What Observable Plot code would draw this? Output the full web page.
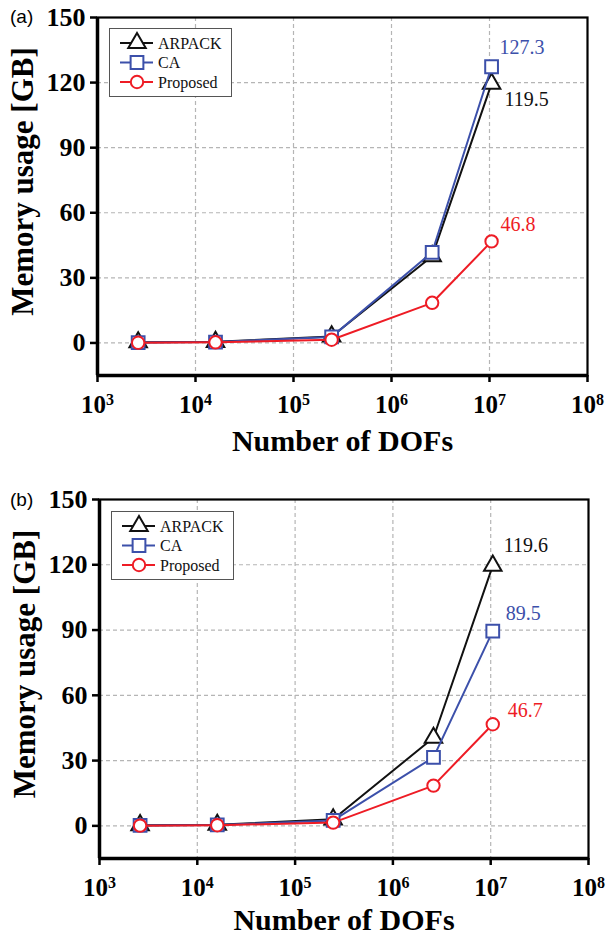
<!DOCTYPE html>
<html><head><meta charset="utf-8">
<script src="https://cdn.jsdelivr.net/npm/d3@7"></script>
<script src="https://cdn.jsdelivr.net/npm/@observablehq/plot@0.6"></script>
<style>
body{margin:0;background:#fff;}
#root{width:608px;position:relative;}
.panel{position:relative;width:608px;}
.plabel{position:absolute;font-family:"Liberation Sans",Arial,sans-serif;font-size:19px;color:#000;}
.legend{position:absolute;}
</style></head><body><div id="root"></div>
<script>
// ---- data ----
const dofs = [2600, 16000, 245000, 2600000, 10500000];
const arpackA = [0.3, 0.5, 3.0, 40.0, 119.5];
const caA     = [0.2, 0.4, 2.8, 41.8, 127.3];
const propA   = [0.1, 0.3, 1.5, 18.5, 46.8];
const arpackB = [0.3, 0.5, 3.0, 40.5, 119.6];
const caB     = [0.2, 0.4, 2.5, 31.5, 89.5];
const propB   = [0.1, 0.3, 1.5, 18.5, 46.7];
const seriesNames = ["ARPACK", "CA", "Proposed"];
const seriesColors = ["#111111", "#3c50aa", "#ee1c25"];
const seriesSymbols = ["triangle", "square", "circle"];
const xTicks = [1e3, 1e4, 1e5, 1e6, 1e7, 1e8];
const yTicks = [0, 30, 60, 90, 120, 150];
const xDomain = [1e3, 1e8];
const yDomain = [-15, 150];
const xLabel = "Number of DOFs";
const yLabel = "Memory usage [GB]";
const panelTags = ["(a)", "(b)"];

// ---- layout/style config ----
const SERIF = "Liberation Serif, Times New Roman, serif";
const panels = [
  {tag: panelTags[0], values: [arpackA, caA, propA], height: 482,
   margins: {top: 17, bottom: 107, left: 97, right: 21}, xLabelDy: 75,
   notes: [{s: 1, dx: 8, dy: -13}, {s: 0, dx: 13, dy: 22}, {s: 2, dx: 9, dy: -10}],
   legend: {left: 109, top: 28}, tagPos: {left: 10, top: 6}},
  {tag: panelTags[1], values: [arpackB, caB, propB], height: 455,
   margins: {top: 17, bottom: 79, left: 99, right: 20}, xLabelDy: 71,
   notes: [{s: 0, dx: 11, dy: -14}, {s: 1, dx: 13, dy: -11}, {s: 2, dx: 15, dy: -7}],
   legend: {left: 111, top: 29}, tagPos: {left: 10, top: 7}}
];
const symbolR = [6.5, 7.2, 6.2];

const root = document.getElementById("root");

panels.forEach(p => {
  const div = document.createElement("div");
  div.className = "panel";
  div.style.height = p.height + "px";
  root.appendChild(div);

  const marks = [];
  marks.push(Plot.ruleY(yTicks.filter(d => d > yDomain[0] && d < yDomain[1]), {stroke: "#b5b5b5", strokeWidth: 1.2, strokeDasharray: "4,3"}));
  marks.push(Plot.ruleX(xTicks.filter(d => d > xDomain[0] && d < xDomain[1]), {stroke: "#b5b5b5", strokeWidth: 1.2, strokeDasharray: "4,3"}));
  p.values.forEach((vals, i) => {
    const rows = dofs.map((x, j) => ({x, y: vals[j]}));
    marks.push(Plot.line(rows, {x: "x", y: "y", stroke: seriesColors[i], strokeWidth: 2}));
    marks.push(Plot.dot(rows, {x: "x", y: "y", symbol: seriesSymbols[i], r: symbolR[i], stroke: seriesColors[i], fill: "white", strokeWidth: 2}));
  });
  p.notes.forEach(n => {
    const vals = p.values[n.s];
    const last = dofs.length - 1;
    marks.push(Plot.text([{x: dofs[last], y: vals[last], t: vals[last].toFixed(1)}], {
      x: "x", y: "y", text: "t", dx: n.dx, dy: n.dy, textAnchor: "start", lineAnchor: "bottom",
      fill: seriesColors[n.s], fontSize: 20, fontWeight: "normal", fontFamily: SERIF}));
  });
  marks.push(Plot.frame({stroke: "#000", strokeWidth: 2.2}));
  marks.push(Plot.ruleX([xDomain[0]], {stroke: "#000", strokeWidth: 3.5}));
  marks.push(Plot.ruleY([yDomain[0]], {stroke: "#000", strokeWidth: 3.5}));
  marks.push(Plot.axisY({ticks: yTicks, tickSize: 7, tickPadding: 5, strokeWidth: 2.5, fontSize: 26, fontWeight: "bold", fontFamily: SERIF, label: null}));
  marks.push(Plot.axisX({ticks: xTicks, tickSize: 7, tickPadding: 13, strokeWidth: 2.5, fontSize: 25, fontWeight: "bold", fontFamily: SERIF, label: null,
    tickFormat: d => String(Math.round(Math.log10(d)))}));
  marks.push(Plot.text([xLabel], {frameAnchor: "bottom", dy: p.xLabelDy, lineAnchor: "bottom", textAnchor: "middle", fontSize: 30, fontWeight: "bold", fontFamily: SERIF, text: d => d}));
  marks.push(Plot.text([yLabel], {frameAnchor: "left", dx: -74, dy: -15, rotate: -90, textAnchor: "middle", lineAnchor: "middle", fontSize: 31, fontWeight: "bold", fontFamily: SERIF, text: d => d}));

  const chart = Plot.plot({
    width: 608, height: p.height,
    marginTop: p.margins.top, marginBottom: p.margins.bottom, marginLeft: p.margins.left, marginRight: p.margins.right,
    x: {type: "log", domain: xDomain},
    y: {domain: yDomain},
    style: "font-family: 'Liberation Serif', 'Times New Roman', serif; background: white; color: #000; overflow: visible;",
    marks
  });
  div.appendChild(chart);

  // superscript exponents on x tick labels
  d3.select(chart).selectAll('g[aria-label="x-axis tick label"] text').each(function() {
    const t = d3.select(this);
    const e = t.text();
    t.text(null);
    t.append("tspan").text("10");
    t.append("tspan").attr("font-size", 16).attr("dy", -8).text(e);
  });

  // panel tag
  const tag = document.createElement("div");
  tag.className = "plabel";
  tag.textContent = p.tag;
  tag.style.left = p.tagPos.left + "px";
  tag.style.top = p.tagPos.top + "px";
  div.appendChild(tag);

  // legend
  const lw = 123, lh = 69;
  const leg = d3.select(div).append("svg").attr("class", "legend")
    .attr("width", lw).attr("height", lh)
    .style("left", p.legend.left + "px").style("top", p.legend.top + "px");
  leg.append("rect").attr("x", 0.5).attr("y", 0.5).attr("width", lw - 1).attr("height", lh - 1)
    .attr("fill", "white").attr("stroke", "#555").attr("stroke-width", 1);
  const d3sym = {triangle: d3.symbolTriangle, square: d3.symbolSquare, circle: d3.symbolCircle};
  seriesNames.forEach((name, i) => {
    const cy = 15 + i * 19.5;
    const g = leg.append("g");
    g.append("line").attr("x1", 11).attr("x2", 44).attr("y1", cy).attr("y2", cy)
      .attr("stroke", seriesColors[i]).attr("stroke-width", 2);
    g.append("path").attr("transform", `translate(28,${cy})`)
      .attr("d", d3.symbol(d3sym[seriesSymbols[i]], Math.PI * symbolR[i] * symbolR[i])())
      .attr("fill", "white").attr("stroke", seriesColors[i]).attr("stroke-width", 2);
    g.append("text").attr("x", 49).attr("y", cy + 5.5).text(name)
      .attr("font-family", "'Liberation Serif', 'Times New Roman', serif").attr("font-size", 16).attr("fill", "#111");
  });
});
</script></body></html>
